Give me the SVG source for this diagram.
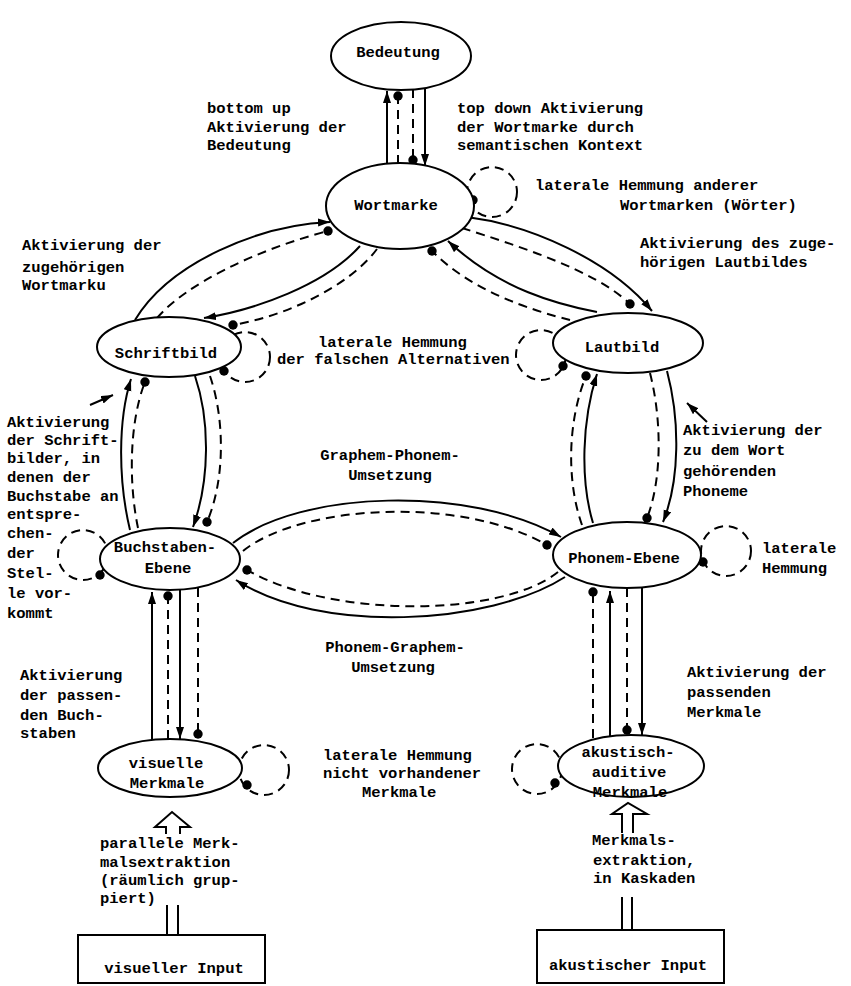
<svg xmlns="http://www.w3.org/2000/svg" width="851" height="986" viewBox="0 0 851 986">
<style>
.n{fill:#fff;stroke:#000;stroke-width:2}
.s{fill:none;stroke:#000;stroke-width:2}
.d{fill:none;stroke:#000;stroke-width:2;stroke-dasharray:9 6}
.a{marker-end:url(#arr)}
.o{marker-end:url(#dot)}
.k{fill:#000}
text{font-family:"Liberation Mono","DejaVu Sans Mono",monospace;font-size:15.5px;font-weight:bold;fill:#000}
.m{text-anchor:middle}
</style>
<defs>
<marker id="arr" markerUnits="userSpaceOnUse" markerWidth="13" markerHeight="10" refX="12" refY="4" orient="auto"><path d="M0,0 L12,4 L0,8 z" fill="#000" stroke="none"/></marker>
<marker id="dot" markerUnits="userSpaceOnUse" markerWidth="11" markerHeight="11" refX="5.5" refY="5.5"><circle cx="5.5" cy="5.5" r="4.7" fill="#000" stroke="none"/></marker>
</defs>
<rect width="851" height="986" fill="#fff"/>
<g id="connectors">
<!-- Bedeutung / Wortmarke -->
<path class="s a" d="M387,165 L387,91"/>
<path class="d o" d="M398,164 L398,96"/>
<path class="d o" d="M413,89 L413,160"/>
<path class="s a" d="M425,89 L425,166"/>
<!-- Schriftbild / Wortmarke -->
<path class="s a" d="M135,320 C170,262 260,225 330,222"/>
<path class="d o" d="M157,318 C185,285 255,250 328,231"/>
<path class="s a" d="M360,246 C325,285 255,310 204,318"/>
<path class="d o" d="M377,249 C350,285 290,315 233,325"/>
<!-- Wortmarke / Lautbild -->
<path class="s a" d="M467,217 C530,225 610,260 652,311"/>
<path class="d o" d="M462,228 C515,245 595,270 630,304"/>
<path class="s a" d="M597,312 C560,305 500,290 448,241"/>
<path class="d o" d="M570,320 C530,310 470,290 432,251"/>
<!-- Schriftbild / Buchstaben -->
<path class="s a" d="M130,530 C118,480 118,420 131,379"/>
<path class="d o" d="M138,528 C128,480 130,420 145,382"/>
<path class="s a" d="M195,376 C210,420 210,480 193,527"/>
<path class="d o" d="M210,376 C225,420 225,480 207,522"/>
<!-- Lautbild / Phonem -->
<path class="s a" d="M593,523 C580,480 582,420 597,374"/>
<path class="d o" d="M582,525 C566,480 568,420 586,376"/>
<path class="d o" d="M650,373 C662,420 662,480 647,518"/>
<path class="s a" d="M667,371 C680,420 680,480 663,522"/>
<!-- Buchstaben / Phonem -->
<path class="s a" d="M233,543 C300,490 470,485 561,537"/>
<path class="d o" d="M243,551 C300,505 460,495 547,545"/>
<path class="d o" d="M558,572 C500,618 330,618 247,570"/>
<path class="s a" d="M565,577 C490,625 320,635 236,580"/>
<!-- Buchstaben / visuelle -->
<path class="s a" d="M152,740 L152,592"/>
<path class="d o" d="M168,739 L168,596"/>
<path class="s a" d="M180,590 L180,739"/>
<path class="d o" d="M198,588 L198,734"/>
<!-- Phonem / akustisch -->
<path class="d o" d="M593,738 L593,592"/>
<path class="s a" d="M610,736 L610,591"/>
<path class="d o" d="M627,588 L627,730"/>
<path class="s a" d="M642,587 L642,735"/>
<!-- self loops -->
<circle class="d" cx="492" cy="192" r="25"/>
<circle class="k" cx="473" cy="200" r="4.7"/>
<circle class="d" cx="245" cy="357" r="25"/>
<circle class="k" cx="224" cy="371" r="4.7"/>
<circle class="d" cx="541" cy="355" r="25"/>
<circle class="k" cx="563" cy="366" r="4.7"/>
<circle class="d" cx="83" cy="555" r="25"/>
<circle class="k" cx="100" cy="575" r="4.7"/>
<circle class="d" cx="726" cy="551" r="25"/>
<circle class="k" cx="703" cy="562" r="4.7"/>
<circle class="d" cx="264" cy="770" r="25"/>
<circle class="k" cx="247" cy="785" r="4.7"/>
<circle class="d" cx="537" cy="769" r="25"/>
<circle class="k" cx="555" cy="783" r="4.7"/>
<!-- input arrows -->
<path class="s" d="M167,905 L167,935 M178,905 L178,935"/>
<path class="s" d="M622,897 L622,930 M632,897 L632,930"/>
<path class="s" d="M166,834 L166,827 L155,827 L172,812 L190,827 L180,827 L180,834"/>
<path class="s" d="M622,833 L622,814 L612,814 L628,803 L647,814 L633,814 L633,833"/>
<!-- annotation pointers -->
<path class="s a" d="M90,405 L113,395"/>
<path class="s a" d="M707,422 L687,403"/>
</g>
<g id="bedeutung"><ellipse class="n" cx="401" cy="56" rx="70" ry="34"/><text class="m" x="398" y="57">Bedeutung</text></g>
<g id="wortmarke"><ellipse class="n" cx="400" cy="206" rx="74" ry="43"/><text class="m" x="396" y="210">Wortmarke</text></g>
<g id="schriftbild"><ellipse class="n" cx="169" cy="347" rx="72" ry="30"/><text class="m" x="166" y="358">Schriftbild</text></g>
<g id="lautbild"><ellipse class="n" cx="628" cy="343" rx="75" ry="30"/><text class="m" x="622" y="352">Lautbild</text></g>
<g id="buchstaben"><ellipse class="n" cx="170" cy="559" rx="70" ry="31"/><text class="m" x="165" y="552">Buchstaben-</text><text class="m" x="168" y="573">Ebene</text></g>
<g id="phonem"><ellipse class="n" cx="627" cy="555" rx="74" ry="33"/><text class="m" x="624" y="563">Phonem-Ebene</text></g>
<g id="visuelle"><ellipse class="n" cx="170" cy="768" rx="72" ry="29"/><text class="m" x="166" y="768">visuelle</text><text class="m" x="167" y="788">Merkmale</text></g>
<g id="akustisch"><ellipse class="n" cx="631" cy="766" rx="73" ry="31"/><text class="m" x="628" y="757">akustisch-</text><text class="m" x="629" y="777">auditive</text><text class="m" x="630" y="797">Merkmale</text></g>
<g id="visueller-input"><rect class="n" x="78" y="935" width="187" height="48"/><text class="m" x="174" y="973">visueller Input</text></g>
<g id="akustischer-input"><rect class="n" x="537" y="930" width="187" height="53"/><text class="m" x="628" y="970">akustischer Input</text></g>
<g id="labels">
<text x="207" y="113">bottom up</text>
<text x="207" y="132">Aktivierung der</text>
<text x="207" y="150">Bedeutung</text>
<text x="457" y="113">top down Aktivierung</text>
<text x="457" y="132">der Wortmarke durch</text>
<text x="457" y="150">semantischen Kontext</text>
<text x="535" y="190">laterale Hemmung anderer</text>
<text x="620" y="210">Wortmarken (Wörter)</text>
<text x="22" y="250">Aktivierung der</text>
<text x="22" y="272">zugehörigen</text>
<text x="22" y="290">Wortmarku</text>
<text x="640" y="248">Aktivierung des zuge-</text>
<text x="640" y="267">hörigen Lautbildes</text>
<text x="318" y="347">laterale Hemmung</text>
<text x="277" y="364">der falschen Alternativen</text>
<text x="7" y="427">Aktivierung</text>
<text x="7" y="445">der Schrift-</text>
<text x="7" y="463">bilder, in</text>
<text x="7" y="482">denen der</text>
<text x="7" y="501">Buchstabe an</text>
<text x="7" y="519">entspre-</text>
<text x="7" y="538">chen-</text>
<text x="7" y="558">der</text>
<text x="7" y="578">Stel-</text>
<text x="7" y="598">le vor-</text>
<text x="7" y="618">kommt</text>
<text x="683" y="435">Aktivierung der</text>
<text x="683" y="455">zu dem Wort</text>
<text x="683" y="476">gehörenden</text>
<text x="683" y="496">Phoneme</text>
<text class="m" x="390" y="460">Graphem-Phonem-</text>
<text class="m" x="390" y="480">Umsetzung</text>
<text class="m" x="395" y="652">Phonem-Graphem-</text>
<text class="m" x="393" y="672">Umsetzung</text>
<text x="762" y="553">laterale</text>
<text x="762" y="573">Hemmung</text>
<text x="20" y="680">Aktivierung</text>
<text x="20" y="700">der passen-</text>
<text x="20" y="720">den Buch-</text>
<text x="20" y="738">staben</text>
<text x="323" y="760">laterale Hemmung</text>
<text x="323" y="778">nicht vorhandener</text>
<text x="362" y="797">Merkmale</text>
<text x="687" y="677">Aktivierung der</text>
<text x="687" y="697">passenden</text>
<text x="687" y="717">Merkmale</text>
<text x="100" y="848">parallele Merk-</text>
<text x="100" y="867">malsextraktion</text>
<text x="100" y="885">(räumlich grup-</text>
<text x="100" y="903">piert)</text>
<text x="592" y="845">Merkmals-</text>
<text x="593" y="865">extraktion,</text>
<text x="593" y="883">in Kaskaden</text>
</g>
</svg>
